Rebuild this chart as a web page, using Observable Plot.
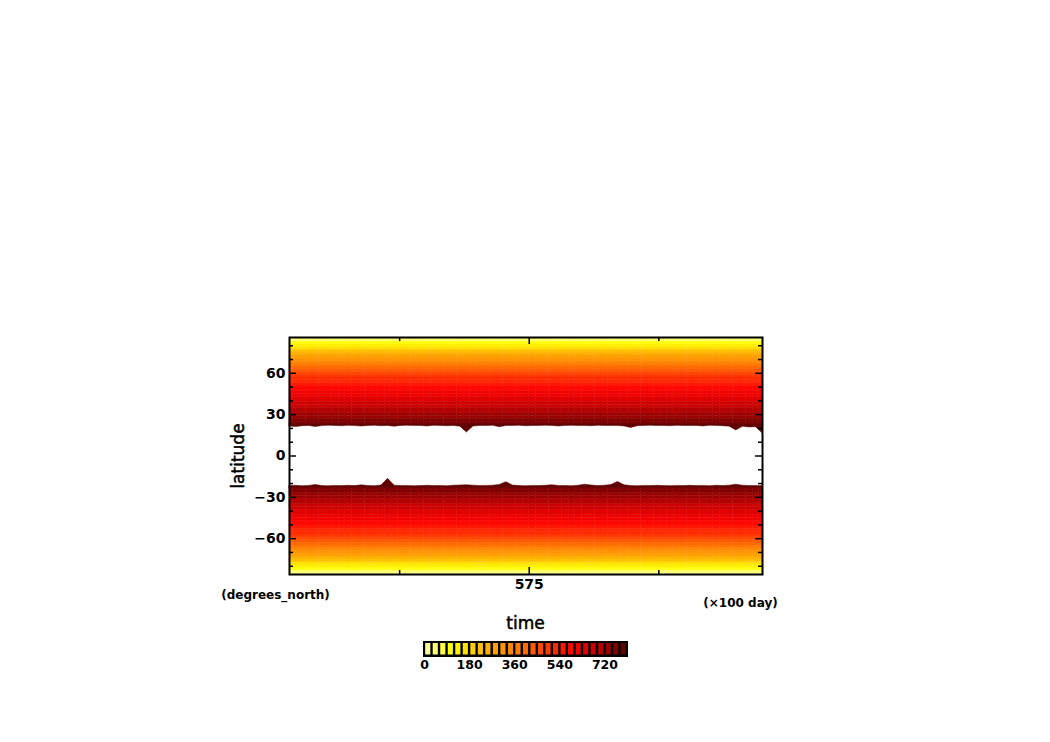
<!DOCTYPE html>
<html><head><meta charset="utf-8">
<script src="https://cdn.jsdelivr.net/npm/d3@7"></script>
<script src="https://cdn.jsdelivr.net/npm/@observablehq/plot@0.6"></script>
<style>
body{margin:0;background:#fff;}
#wrap{position:relative;width:1050px;height:742px;}
#wrap svg{position:absolute;}
</style>
</head><body><div id="wrap"></div>
<script>
// time axis, units of 100 days
const timeStart = 573.15;
const timeEnd = 576.80;
// northern and southern boundary of the missing (white) tropical band, one per time step
const northEdge = [21.5,21.0,21.6,21.8,21.0,21.7,21.9,21.8,21.6,21.9,21.7,21.4,21.8,21.9,21.6,21.8,21.3,21.8,21.9,21.7,
  21.8,21.5,21.9,21.8,21.6,21.8,21.3,17.0,21.4,21.8,21.7,21.9,20.8,21.7,21.8,21.9,21.6,21.8,21.7,21.9,
  21.8,21.5,21.8,21.9,21.7,21.8,21.6,21.9,21.8,21.7,21.8,21.4,20.3,21.6,21.8,21.9,21.7,21.8,21.6,21.9,
  21.8,21.7,21.8,21.5,21.9,21.8,21.6,21.3,18.5,21.2,20.7,20.9,16.5];
const southEdge = [-21.8,-21.6,-21.9,-21.7,-21.0,-21.8,-21.9,-21.7,-21.8,-21.6,-21.8,-21.3,-21.8,-21.9,-21.4,-16.5,-21.5,-21.8,-21.7,-21.9,
  -21.8,-21.6,-21.8,-21.7,-21.9,-21.6,-21.4,-21.2,-21.5,-21.8,-21.7,-21.5,-21.0,-19.0,-21.4,-21.8,-21.9,-21.7,-21.8,-21.6,
  -21.2,-21.7,-21.8,-21.9,-21.5,-20.8,-21.4,-21.8,-21.6,-21.0,-18.8,-21.3,-21.8,-21.9,-21.7,-21.8,-21.6,-21.8,-21.9,-21.7,
  -21.8,-21.6,-21.8,-21.7,-21.9,-21.6,-21.8,-21.5,-20.8,-21.5,-21.8,-21.7,-21.9];
// latitude profile (|latitude| band centres, 2 deg) and field value
const profileLat   = [86,84,82,80,78,76,74,72,70,68,66,64,62,60,58,56,54,52,50,48,46,44,42,40,38,36,34,32,30,28,26,24];
const profileValue = [10,50,90,130,170,210,250,285,320,350,380,410,440,465,490,510,530,550,570,590,605,620,635,650,665,680,695,710,725,740,755,770];
const edgeLat = 23;       // lower limit of the full bands
const edgeValue = 790;    // value of the field next to the missing band
// shading levels
const levels = [30,60,90,120,150,180,210,240,270,300,330,360,390,420,450,480,510,540,570,600,630,660,690,720,750,780];
const levelColors = ["#ffff99","#ffff70","#ffff40","#ffff10","#fff000","#ffe000","#ffd000","#ffc000","#ffb000","#ffa000",
  "#ff9400","#ff8800","#ff7a00","#ff6a00","#ff5a00","#ff4800","#ff3800","#ff2800","#ff1800","#ff0800",
  "#f00000","#e00000","#cc0000","#b40000","#9a0000","#800000","#600000"];
const cbMin = 0, cbMax = 810;
const cbTicks = [0,180,360,540,720];
const latMax = 86;
const xMajorTicks = [575];
const xMinorTicks = [574,576];
const yTicks = [-60,-30,0,30,60];
const yMinorTicks = [-80,-70,-50,-40,-20,-10,10,20,40,50,70,80];

const nT = northEdge.length;
const dt = (timeEnd - timeStart) / (nT - 1);
const times = northEdge.map((_, i) => timeStart + i*dt);

// full bands (columns)
const cells = [];
times.forEach((t, i) => {
  const t1 = Math.max(timeStart, t - dt/2), t2 = Math.min(timeEnd, t + dt/2);
  profileLat.forEach((c, j) => {
    const v = profileValue[j];
    const nlo = Math.max(c-1, edgeLat), nhi = Math.min(c+1, latMax);
    if (nhi > nlo) cells.push({t1, t2, y1: nlo, y2: nhi, v});
    cells.push({t1, t2, y1: -nhi, y2: -nlo, v});
  });
});
// ragged edge next to the missing band
const edges = times.map((t, i) => ({t, n: northEdge[i], s: southEdge[i], v: edgeValue}));

const W=1050, H=742, mL=289, mR=288, mT=337, mB=168;
const fw = W-mL-mR, fh = H-mT-mB;
const font = "DejaVu Sans";

const main = Plot.plot({
  width: W, height: H, marginLeft: mL, marginRight: mR, marginTop: mT, marginBottom: mB,
  x: {domain: [timeStart, timeEnd], label: null},
  y: {domain: [-latMax, latMax], label: null},
  color: {type: "threshold", domain: levels, range: levelColors},
  style: {fontFamily: font, fontSize: "14px", fontWeight: "bold", color: "black", background: "transparent"},
  marks: [
    Plot.rect(cells, {x1: "t1", x2: "t2", y1: "y1", y2: "y2", fill: "v", stroke: "v", strokeWidth: 0.4}),
    Plot.areaY(edges, {x: "t", y1: "n", y2: () => edgeLat + 0.3, fill: "v", stroke: "v", strokeWidth: 0.5}),
    Plot.areaY(edges, {x: "t", y1: "s", y2: () => -edgeLat - 0.3, fill: "v", stroke: "v", strokeWidth: 0.5}),
    Plot.tickX(xMajorTicks, {x: d => d, insetTop: fh-7, strokeWidth: 1.5}),
    Plot.tickX(xMajorTicks, {x: d => d, insetBottom: fh-7, strokeWidth: 1.5}),
    Plot.tickX(xMinorTicks, {x: d => d, insetTop: fh-4, strokeWidth: 1.5}),
    Plot.tickX(xMinorTicks, {x: d => d, insetBottom: fh-4, strokeWidth: 1.5}),
    Plot.tickY(yTicks, {y: d => d, insetRight: fw-7, strokeWidth: 1.5}),
    Plot.tickY(yTicks, {y: d => d, insetLeft: fw-7, strokeWidth: 1.5}),
    Plot.tickY(yMinorTicks, {y: d => d, insetRight: fw-4, strokeWidth: 1.5}),
    Plot.tickY(yMinorTicks, {y: d => d, insetLeft: fw-4, strokeWidth: 1.5}),
    Plot.frame({stroke: "black", strokeWidth: 2}),
    Plot.axisX(xMajorTicks, {anchor: "bottom", tickSize: 0, tickPadding: 5, label: null, tickFormat: d => String(d)}),
    Plot.axisY(yTicks, {anchor: "left", tickSize: 0, tickPadding: 4, label: null}),
    Plot.text(["latitude"], {text: d => d, frameAnchor: "left", dx: -51, rotate: -90, textAnchor: "middle", lineAnchor: "middle", fontSize: 17, fontWeight: "normal", stroke: "black", strokeWidth: 0.5, fill: "black"}),
    Plot.text(["(degrees_north)"], {text: d => d, frameAnchor: "bottom-left", dx: -14, dy: 21, textAnchor: "middle", lineAnchor: "middle", fontSize: 12}),
    Plot.text(["(\u00d7100 day)"], {text: d => d, frameAnchor: "bottom-right", dx: -22, dy: 29, textAnchor: "middle", lineAnchor: "middle", fontSize: 12}),
    Plot.text(["time"], {text: d => d, frameAnchor: "bottom", dx: -0.5, dy: 49, textAnchor: "middle", lineAnchor: "middle", fontSize: 17, fontWeight: "normal", stroke: "black", strokeWidth: 0.5, fill: "black"})
  ]
});
main.style.left = "0px"; main.style.top = "0px";
document.getElementById("wrap").appendChild(main);

// colorbar
const bounds = [cbMin, ...levels, cbMax];
const boxes = levelColors.map((c, k) => ({lo: bounds[k], hi: bounds[k+1], c}));
const cbL = 20, cbR = 20, cbW = 203;
const cb = Plot.plot({
  width: cbW + cbL + cbR, height: 36, marginLeft: cbL, marginRight: cbR, marginTop: 0, marginBottom: 20,
  x: {domain: [cbMin, cbMax], label: null},
  style: {fontFamily: font, fontSize: "12.5px", fontWeight: "bold", color: "black", background: "transparent"},
  marks: [
    Plot.rect(boxes, {x1: "lo", x2: "hi", fill: "black", insetLeft: -1, insetRight: -1}),
    Plot.rect(boxes, {x1: "lo", x2: "hi", fill: "c", insetLeft: 1.2, insetRight: 1.2, insetTop: 2, insetBottom: 2.5}),
    Plot.axisX(cbTicks, {anchor: "bottom", tickSize: 0, tickPadding: 3, label: null, tickFormat: d => String(d)})
  ]
});
cb.style.left = (424 - cbL) + "px"; cb.style.top = "641px";
document.getElementById("wrap").appendChild(cb);
</script>
</body></html>
